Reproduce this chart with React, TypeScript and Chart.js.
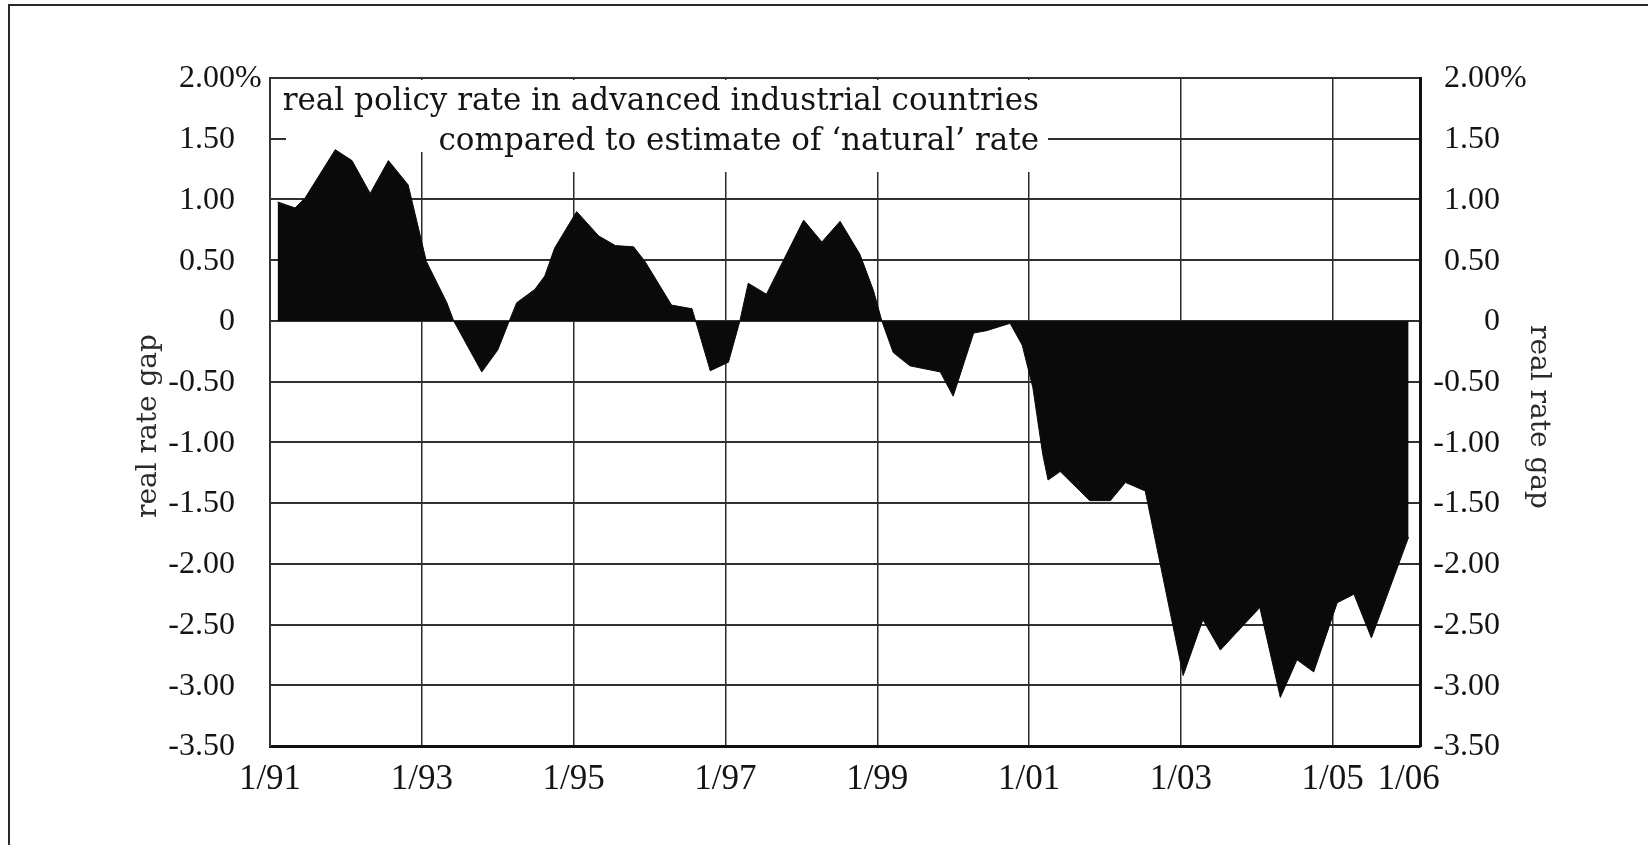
import { useEffect, useRef } from "react";
import { Chart, registerables } from "chart.js";

Chart.register(...registerables);

// ---- data (decimal years, real rate gap in %) ----
const dates = [
  1991.10, 1991.33, 1991.46, 1991.86, 1992.08, 1992.32, 1992.56, 1992.82, 1993.06, 1993.33,
  1993.42, 1993.79, 1994.00, 1994.14, 1994.25, 1994.49, 1994.62, 1994.75, 1995.04, 1995.33,
  1995.55, 1995.79, 1995.94, 1996.29, 1996.56, 1996.80, 1997.04, 1997.19, 1997.30, 1997.54,
  1998.03, 1998.27, 1998.51, 1998.77, 1998.95, 1999.06, 1999.21, 1999.43, 1999.83, 2000.00,
  2000.27, 2000.44, 2000.75, 2000.91, 2001.05, 2001.18, 2001.25, 2001.41, 2001.80, 2002.07,
  2002.27, 2002.53, 2003.03, 2003.29, 2003.52, 2004.04, 2004.31, 2004.53, 2004.75, 2005.06,
  2005.28, 2005.51, 2006.00,
];
const gap = [
  0.98, 0.93, 1.01, 1.41, 1.32, 1.05, 1.32, 1.12, 0.49, 0.15,
  0.00, -0.42, -0.24, -0.02, 0.15, 0.26, 0.37, 0.60, 0.90, 0.70,
  0.62, 0.61, 0.49, 0.13, 0.10, -0.41, -0.34, 0.00, 0.31, 0.22,
  0.83, 0.65, 0.82, 0.55, 0.25, 0.00, -0.26, -0.37, -0.42, -0.62,
  -0.10, -0.08, -0.02, -0.20, -0.55, -1.10, -1.31, -1.24, -1.48, -1.48,
  -1.33, -1.40, -2.92, -2.46, -2.71, -2.36, -3.10, -2.79, -2.89, -2.32,
  -2.25, -2.61, -1.78,
];

const xTickValues = [1991, 1993, 1995, 1997, 1999, 2001, 2003, 2005, 2006];
const xTickLabels = ["1/91", "1/93", "1/95", "1/97", "1/99", "1/01", "1/03", "1/05", "1/06"];
const xNoGrid = [1991, 2006];

const yTickValues = [2, 1.5, 1, 0.5, 0, -0.5, -1, -1.5, -2, -2.5, -3, -3.5];
const yTickLabels = ["2.00%", "1.50", "1.00", "0.50", "0", "-0.50", "-1.00", "-1.50", "-2.00", "-2.50", "-3.00", "-3.50"];

const titleLines = [
  "real policy rate in advanced industrial countries",
  "compared to estimate of \u2018natural\u2019 rate",
];
const axisTitle = "real rate gap";

// ---- layout / style constants ----
const W = 1648;
const H = 845;
const PAD_L = 10;
const PAD_R = 10;
const AREA_LEFT = 270;
const AREA_RIGHT = 1420;
const AREA_TOP = 78;
const AREA_BOTTOM = 746;
const SERIF = "'Liberation Serif', 'Times New Roman', serif";
const WIDE_SERIF = "'DejaVu Serif', serif";
const INK = "#141414";

const decor = {
  id: "decor",
  beforeDatasetsDraw(chart: any) {
    const ctx = chart.ctx as CanvasRenderingContext2D;
    const a = chart.chartArea;
    ctx.save();
    // white boxes behind the caption (they hide the grid there)
    ctx.fillStyle = "#ffffff";
    ctx.fillRect(a.left + 16, a.top + 2, 1048 - (a.left + 16), 152 - (a.top + 2));
    ctx.fillRect(440, 118, 1048 - 440, 172 - 118);
    ctx.fillStyle = INK;
    ctx.font = `31px ${WIDE_SERIF}`;
    ctx.textAlign = "right";
    ctx.textBaseline = "alphabetic";
    ctx.fillText(titleLines[0], 1039, 110);
    ctx.fillText(titleLines[1], 1039, 150);
    ctx.restore();
  },
  afterDraw(chart: any) {
    const ctx = chart.ctx as CanvasRenderingContext2D;
    const a = chart.chartArea;
    const ys = chart.scales.y;
    ctx.save();
    // outer frame (top and left edges of the scanned box)
    ctx.strokeStyle = "#2a2a2a";
    ctx.lineWidth = 2;
    ctx.beginPath();
    ctx.moveTo(9, H);
    ctx.lineTo(9, 5);
    ctx.lineTo(W, 5);
    ctx.stroke();

    // y tick labels, both sides, with the % sign hanging
    ctx.fillStyle = INK;
    ctx.font = `32px ${SERIF}`;
    ctx.textBaseline = "middle";
    ctx.textAlign = "right";
    const pct = ctx.measureText("%").width;
    yTickValues.forEach((v, i) => {
      const y = ys.getPixelForValue(v);
      const lab = yTickLabels[i];
      const extra = lab.endsWith("%") ? pct : 0;
      ctx.fillText(lab, a.left - 35 + extra, y + 1);
      ctx.fillText(lab, a.right + 80 + extra, y + 1);
    });

    // axis titles
    ctx.font = `28px ${WIDE_SERIF}`;
    ctx.fillStyle = "#2a2a2a";
    ctx.textAlign = "center";
    ctx.textBaseline = "middle";
    ctx.save();
    ctx.translate(149, 426);
    ctx.rotate(-Math.PI / 2);
    ctx.fillText(axisTitle, 0, 0);
    ctx.restore();
    ctx.save();
    ctx.translate(1538, 417);
    ctx.rotate(Math.PI / 2);
    ctx.fillText(axisTitle, 0, 0);
    ctx.restore();
    ctx.restore();
  },
};

export default function App() {
  const ref = useRef<HTMLCanvasElement | null>(null);

  useEffect(() => {
    if (!ref.current) return;
    const chart = new Chart(ref.current, {
      type: "line",
      data: {
        datasets: [
          {
            data: dates.map((d, i) => ({ x: d, y: gap[i] })),
            fill: "origin",
            backgroundColor: "#0a0a0a",
            borderColor: "#0a0a0a",
            borderWidth: 1,
            pointRadius: 0,
            tension: 0,
          },
        ],
      },
      options: {
        animation: false,
        responsive: false,
        devicePixelRatio: 1,
        layout: { padding: { left: PAD_L, right: PAD_R, top: AREA_TOP, bottom: 0 } },
        plugins: { legend: { display: false }, tooltip: { enabled: false } },
        scales: {
          x: {
            type: "linear",
            min: 1991,
            max: 2006.15,
            afterBuildTicks: (s: any) => {
              s.ticks = xTickValues.map((v) => ({ value: v }));
            },
            afterFit: (s: any) => {
              s.height = H - AREA_BOTTOM;
            },
            ticks: {
              autoSkip: false,
              maxRotation: 0,
              minRotation: 0,
              padding: 13,
              color: INK,
              font: { family: SERIF, size: 35 },
              callback: (_v: any, i: number) => xTickLabels[i],
            },
            grid: {
              drawTicks: false,
              lineWidth: 1.5,
              color: (c: any) =>
                c.tick && xNoGrid.includes(c.tick.value) ? "rgba(0,0,0,0)" : "#2b2b2b",
            },
            border: { color: "#111", width: 3 },
          },
          y: {
            position: "left",
            min: -3.5,
            max: 2,
            afterFit: (s: any) => {
              s.width = AREA_LEFT - PAD_L;
            },
            ticks: { stepSize: 0.5, display: false },
            grid: { drawTicks: false, color: "#303030", lineWidth: 2 },
            border: { color: "#333", width: 2 },
          },
          y2: {
            position: "right",
            min: -3.5,
            max: 2,
            afterFit: (s: any) => {
              s.width = W - PAD_R - AREA_RIGHT;
            },
            ticks: { stepSize: 0.5, display: false },
            grid: { display: false },
            border: { color: "#111", width: 3 },
          },
        },
      } as any,
      plugins: [decor],
    });
    return () => chart.destroy();
  }, []);

  return (
    <div style={{ position: "absolute", left: 0, top: 0, width: W, height: H, background: "#fff" }}>
      <canvas ref={ref} width={W} height={H} style={{ width: W, height: H, display: "block" }} />
    </div>
  );
}
